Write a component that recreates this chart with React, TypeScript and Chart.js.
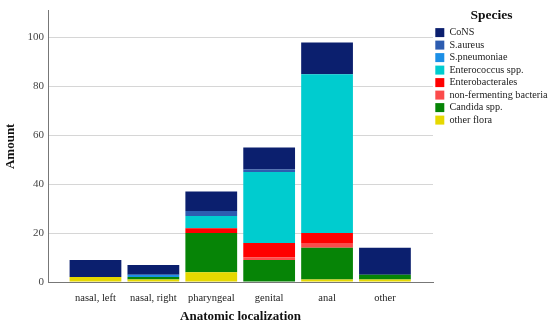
import { useEffect, useRef } from 'react';
import { Chart, registerables } from 'chart.js';

Chart.register(...registerables);

const categories = ['nasal, left', 'nasal, right', 'pharyngeal', 'genital', 'anal', 'other'];

// stacked bottom-up
const otherFlora = [2, 1, 4, 0, 1, 1];
const candida = [0, 1, 16, 9, 13, 2];
const nonFermenting = [0, 0, 0, 1, 2, 0];
const enterobacterales = [0, 0, 2, 6, 4, 0];
const enterococcus = [0, 0, 5, 29, 65, 0];
const sPneumoniae = [0, 1, 0, 0, 0, 0];
const sAureus = [0, 0, 2, 1, 0, 0];
const cons = [7, 4, 8, 9, 13, 11];

const seriesNames = [
  'other flora',
  'Candida spp.',
  'non-fermenting bacteria',
  'Enterobacterales',
  'Enterococcus spp.',
  'S.pneumoniae',
  'S.aureus',
  'CoNS',
];
const seriesValues = [otherFlora, candida, nonFermenting, enterobacterales, enterococcus, sPneumoniae, sAureus, cons];
const seriesColors = ['#e6d800', '#068406', '#fb4b4b', '#ff0000', '#00cccf', '#1c8fe6', '#2d5cb0', '#0b1f6e'];

const yTicks = [0, 20, 40, 60, 80, 100];
const yMax = 111;

const SERIF = "'Liberation Serif', 'Times New Roman', serif";

export default function App() {
  const ref = useRef<HTMLCanvasElement | null>(null);

  useEffect(() => {
    if (!ref.current) return;
    const chart = new Chart(ref.current, {
      type: 'bar',
      data: {
        datasets: seriesNames.map((name, s) => ({
          label: name,
          data: seriesValues[s].map((v, i) => ({ x: i, y: v })),
          backgroundColor: seriesColors[s],
          borderWidth: 0,
          categoryPercentage: 1,
          barPercentage: 0.894,
        })),
      },
      options: {
        animation: false,
        responsive: true,
        maintainAspectRatio: false,
        layout: { padding: { top: 5, left: 0, right: 0, bottom: 0 } },
        plugins: {
          tooltip: { enabled: false },
          legend: {
            position: 'right',
            align: 'start',
            reverse: true,
            maxWidth: 117,
            title: {
              display: true,
              text: 'Species',
              color: '#111',
              font: { family: SERIF, size: 13.5, weight: 'bold' },
              padding: { top: 4, bottom: 0 },
            },
            labels: {
              boxWidth: 9,
              boxHeight: 9,
              padding: 2.3,
              color: '#222',
              font: { family: SERIF, size: 10.2 },
            },
          },
        },
        scales: {
          x: {
            type: 'linear',
            stacked: true,
            min: -0.82,
            max: 5.83,
            offset: false,
            grid: { display: false, drawTicks: false },
            border: { display: true, color: '#777', width: 1 },
            afterBuildTicks: (axis: any) => {
              axis.ticks = categories.map((_, i) => ({ value: i }));
            },
            afterFit: (axis: any) => {
              axis.height = 42;
            },
            ticks: {
              autoSkip: false,
              maxRotation: 0,
              padding: 10,
              color: '#222',
              font: { family: SERIF, size: 10.5 },
              callback: (v: any) => categories[v] ?? '',
            },
            title: {
              display: true,
              text: 'Anatomic localization',
              color: '#111',
              font: { family: SERIF, size: 13, weight: 'bold' },
              padding: { top: 2, bottom: 0 },
            },
          },
          y: {
            stacked: true,
            min: 0,
            max: yMax,
            afterBuildTicks: (axis: any) => {
              axis.ticks = yTicks.map((v) => ({ value: v }));
            },
            afterFit: (axis: any) => {
              axis.width = 48;
            },
            grid: { color: '#d6d6d6', drawTicks: false },
            border: { display: true, color: '#777', width: 1 },
            ticks: {
              padding: 4,
              color: '#444',
              font: { family: SERIF, size: 11 },
            },
            title: {
              display: true,
              text: 'Amount',
              color: '#111',
              font: { family: SERIF, size: 13, weight: 'bold' },
              padding: { top: 3, bottom: 0 },
            },
          },
        },
      },
    });
    return () => chart.destroy();
  }, []);

  return (
    <div style={{ position: 'fixed', left: 0, top: 0, width: 550, height: 324, background: '#fff' }}>
      <canvas ref={ref} />
    </div>
  );
}
